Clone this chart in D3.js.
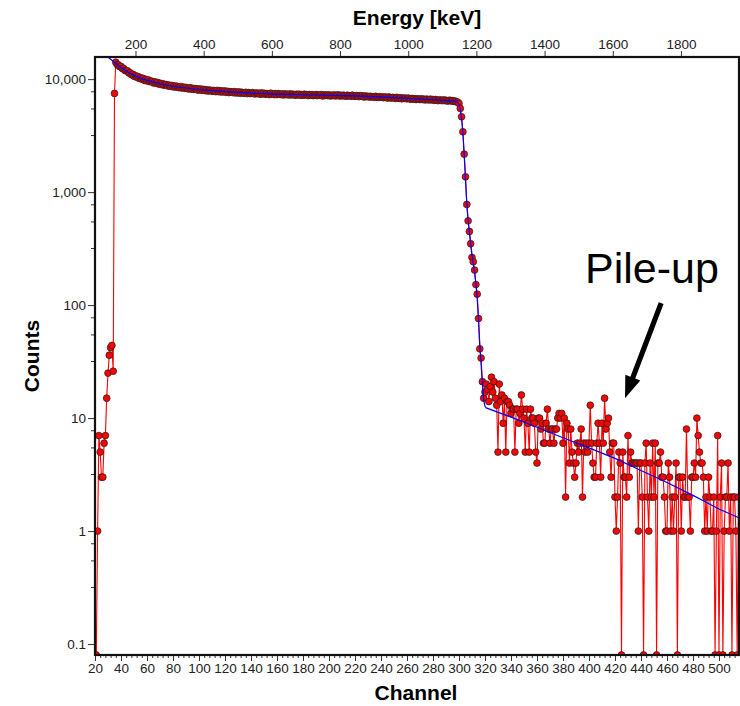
<!DOCTYPE html>
<html>
<head>
<meta charset="utf-8">
<script src="https://cdn.jsdelivr.net/npm/d3@7"></script>
<style>
  body { margin: 0; background: #fff; }
  svg { display: block; }
  text { font-family: "Liberation Sans", Arial, Helvetica, sans-serif; }
</style>
</head>
<body>
<svg id="chart" width="740" height="706"></svg>
<script>
// ---- Spectrum: counts per channel ----
const firstChannel = 21;
// channels 21-35: low-energy threshold rise
const riseCounts = [0, 1, 7, 5, 3, 3, 6, 7, 15, 25, 36, 42, 44, 26, 7470];
// channels 36-299: flat continuum
const plateauCounts = [
  14100, 13450, 13380, 12900,
  12950, 12400, 12450, 11950, 11850, 11850, 11350, 11400, 10950, 11050,
  10600, 10750, 10400, 10550, 10150, 10300, 10000, 10150, 9750, 9950,
  9650, 9850, 9500, 9600, 9550, 9250, 9450, 9200, 9350, 9050,
  9200, 8950, 9100, 8850, 8950, 8950, 8700, 8850, 8650, 8800,
  8550, 8700, 8500, 8650, 8450, 8400, 8600, 8350, 8500, 8300,
  8450, 8250, 8200, 8400, 8150, 8300, 8100, 8250, 8200, 8000,
  8200, 8000, 8150, 7950, 8100, 7900, 8050, 7850, 8000, 7950,
  7800, 7950, 7850, 7750, 7950, 7750, 7900, 7700, 7850, 7700,
  7850, 7650, 7800, 7600, 7750, 7700, 7600, 7750, 7550, 7700,
  7550, 7700, 7500, 7650, 7550, 7500, 7650, 7450, 7600, 7500,
  7450, 7600, 7500, 7400, 7550, 7450, 7500, 7350, 7550, 7400,
  7500, 7350, 7450, 7400, 7300, 7500, 7350, 7450, 7300, 7450,
  7300, 7450, 7350, 7300, 7400, 7250, 7400, 7300, 7350, 7250,
  7400, 7250, 7350, 7300, 7200, 7350, 7250, 7350, 7200, 7300,
  7200, 7350, 7250, 7300, 7150, 7300, 7200, 7300, 7150, 7250,
  7300, 7150, 7250, 7200, 7300, 7100, 7250, 7150, 7250, 7150,
  7250, 7100, 7200, 7150, 7250, 7100, 7200, 7250, 7100, 7200,
  7100, 7200, 7150, 7050, 7200, 7100, 7150, 7050, 7200, 7100,
  7050, 7150, 7100, 7000, 7150, 7050, 7100, 6950, 7100, 7000,
  7050, 6950, 7050, 6950, 7000, 6900, 7050, 6950, 6900, 7000,
  6900, 6950, 6850, 6950, 6900, 6800, 6950, 6850, 6800, 6900,
  6850, 6750, 6900, 6800, 6750, 6850, 6700, 6800, 6750, 6800,
  6700, 6800, 6700, 6650, 6750, 6650, 6700, 6600, 6700, 6650,
  6600, 6700, 6600, 6650, 6550, 6650, 6600, 6550, 6650, 6550,
  6600, 6500, 6600, 6500, 6450, 6550, 6500, 6450, 6550, 6450,
  6500, 6400, 6450, 6500, 6400, 6450, 6350, 6400, 6300, 6250
];
// channels 300-319: Compton edge fall-off
const edgeCounts = [6100, 5500, 4640, 3420, 2170, 1365, 778, 557, 449, 349,
                    264, 242, 204, 152, 125, 76, 41, 34, 21, 15];
// channels 320-515: pile-up tail
const tailCounts = [
  17, 20, 18, 14, 19, 23, 17, 21, 15, 13,
  5, 20, 14, 16, 9, 15, 5, 14, 14, 13,
  11, 12, 12, 5, 12, 12, 9, 11, 16, 12,
  10, 5, 12, 9, 5, 12, 10, 10, 9, 5,
  4, 10, 10, 8, 9, 6, 6, 9, 12, 8,
  6, 8, 8, 6, 8, 8, 10, 11, 10, 11,
  6, 10, 2, 9, 8, 4, 8, 5, 4, 3,
  4, 6, 5, 6, 8, 2, 6, 5, 6, 5,
  6, 13, 6, 4, 3, 3, 6, 9, 6, 3,
  9, 6, 15, 8, 9, 10, 5, 3, 6, 6,
  2, 1, 2, 5, 4, 0, 5, 3, 3, 2,
  7, 3, 5, 4, 4, 4, 4, 4, 1, 4,
  4, 2, 0, 4, 6, 2, 1, 4, 2, 6,
  2, 6, 0, 4, 4, 5, 3, 3, 2, 1,
  1, 4, 3, 1, 2, 1, 2, 4, 0, 3,
  3, 1, 3, 2, 2, 8, 2, 2, 1, 3,
  3, 4, 3, 10, 7, 5, 4, 4, 3, 1,
  2, 1, 3, 2, 1, 1, 2, 0, 1, 7,
  0, 2, 4, 0, 1, 2, 2, 4, 1, 2,
  0, 2, 2, 1, 0, 2
];

// ---- Model curve (fit) ----
const fitChannels = [28, 30, 33, 36, 40, 45, 50, 55, 60, 70, 80, 90, 100, 120, 140, 160,
  190, 220, 250, 280, 296, 298, 299, 300, 301, 302, 303, 304, 305, 306, 307, 308, 309,
  310, 311, 312, 313, 314, 315, 316, 317, 318, 319, 320, 321, 340, 360, 380, 400, 420,
  440, 460, 480, 500, 516];
const fitCounts = [17500, 15700, 14700, 13800, 12700, 11600, 10800, 10200, 9750, 9100,
  8650, 8350, 8100, 7750, 7520, 7380, 7240, 7100, 6850, 6570, 6400, 6330, 6250, 6000,
  5400, 4500, 3300, 2150, 1300, 800, 570, 440, 350, 280, 230, 195, 155, 115, 75, 45,
  30, 20, 14.5, 12.7, 12.3, 10.2, 8.3, 6.7, 5.45, 4.4, 3.44, 2.69, 2.07, 1.57, 1.3];

// ---- Axis ticks ----
const channelTicks = [20, 40, 60, 80, 100, 120, 140, 160, 180, 200, 220, 240, 260, 280,
  300, 320, 340, 360, 380, 400, 420, 440, 460, 480, 500];
const energyTicks = [200, 400, 600, 800, 1000, 1200, 1400, 1600, 1800];
const countTicks = [0.1, 1, 10, 100, 1000, 10000];
const countTickLabels = ["0.1", "1", "10", "100", "1,000", "10,000"];
const minorFactors = [3.2, 5.5, 7.8];

// ---- Annotation (data units) ----
const pileLabel = { text: "Pile-up", channel: 397, count: 157 };
const pileArrow = { fromChannel: 455.5, fromCount: 104, toChannel: 427.7, toCount: 15 };

// ---- Build table ----
const allCounts = riseCounts.concat(plateauCounts, edgeCounts, tailCounts);
const spectrum = allCounts.map((c, i) => ({ ch: firstChannel + i, c }));
const fit = fitChannels.map((ch, i) => ({ ch, c: fitCounts[i] }));

// ---- Layout ----
const P = { left: 95, right: 739, top: 57, bottom: 655 };
const x = d3.scaleLinear().domain([20, 515.4]).range([P.left, P.right]);
const xE = d3.scaleLinear().domain([81.2, 1970.3]).range([P.left, P.right]);
const y = d3.scaleLog().domain([0.08, 15700]).range([P.bottom, P.top]);
const yOf = c => c > 0 ? y(c) : y(y.domain()[0]);

const svg = d3.select("#chart");

svg.append("defs").append("clipPath").attr("id", "plotClip")
  .append("rect")
  .attr("x", P.left).attr("y", P.top)
  .attr("width", P.right - P.left).attr("height", P.bottom - P.top);

const plotG = svg.append("g").attr("clip-path", "url(#plotClip)");

// measured spectrum: connecting line
plotG.append("path")
  .datum(spectrum)
  .attr("fill", "none")
  .attr("stroke", "#ff0000")
  .attr("stroke-width", 1.1)
  .attr("d", d3.line().x(d => x(d.ch)).y(d => yOf(d.c)));

// measured spectrum: markers
plotG.append("g").selectAll("circle")
  .data(spectrum)
  .join("circle")
  .attr("cx", d => x(d.ch))
  .attr("cy", d => yOf(d.c))
  .attr("r", 3.4)
  .attr("fill", "#ff0000")
  .attr("stroke", "#222")
  .attr("stroke-width", 0.75);

// fitted model
plotG.append("path")
  .datum(fit)
  .attr("fill", "none")
  .attr("stroke", "#0000ff")
  .attr("stroke-width", 1.2)
  .attr("d", d3.line().x(d => x(d.ch)).y(d => y(d.c)));

// ---- Axes ----
const tickColor = "#333";
const labelColor = "#222";
const tickFont = '"Liberation Sans", Arial, sans-serif';

// bottom: channel
const minorChannel = d3.range(20, 516, 4).filter(v => v % 20 !== 0);
svg.append("g").attr("transform", `translate(0,${P.bottom})`)
  .call(d3.axisBottom(x).tickValues(minorChannel).tickSize(3).tickFormat(""))
  .call(g => g.select(".domain").remove())
  .call(g => g.selectAll("line").attr("stroke", tickColor));
svg.append("g").attr("transform", `translate(0,${P.bottom})`)
  .call(d3.axisBottom(x).tickValues(channelTicks).tickSize(6).tickPadding(2)
    .tickFormat(d3.format("d")))
  .call(g => g.select(".domain").remove())
  .call(g => g.selectAll("line").attr("stroke", tickColor))
  .call(g => g.selectAll("text").attr("fill", labelColor)
    .style("font-size", "13.5px").style("font-family", tickFont));

// top: energy
svg.append("g").attr("transform", `translate(0,${P.top})`)
  .call(d3.axisTop(xE).tickValues(energyTicks).tickSize(6).tickPadding(2)
    .tickFormat(d3.format("d")))
  .call(g => g.select(".domain").remove())
  .call(g => g.selectAll("line").attr("stroke", tickColor))
  .call(g => g.selectAll("text").attr("fill", labelColor)
    .style("font-size", "13.5px").style("font-family", tickFont));

// left: counts
const minorCounts = [];
[0.01, 0.1, 1, 10, 100, 1000].forEach(dec => minorFactors.forEach(f => {
  const v = dec * f;
  if (v >= y.domain()[0] && v <= y.domain()[1]) minorCounts.push(v);
}));
svg.append("g").attr("transform", `translate(${P.left},0)`)
  .call(d3.axisLeft(y).tickValues(minorCounts).tickSize(4).tickFormat(""))
  .call(g => g.select(".domain").remove())
  .call(g => g.selectAll("line").attr("stroke", tickColor));
svg.append("g").attr("transform", `translate(${P.left},0)`)
  .call(d3.axisLeft(y).tickValues(countTicks).tickSize(7).tickPadding(2)
    .tickFormat((d, i) => countTickLabels[i]))
  .call(g => g.select(".domain").remove())
  .call(g => g.selectAll("line").attr("stroke", tickColor))
  .call(g => g.selectAll("text").attr("fill", labelColor)
    .style("font-size", "13.5px").style("font-family", tickFont));

// frame
svg.append("rect")
  .attr("x", P.left).attr("y", P.top)
  .attr("width", P.right - P.left).attr("height", P.bottom - P.top)
  .attr("fill", "none").attr("stroke", "#111").attr("stroke-width", 2.2);

// axis titles
svg.append("text").attr("x", 417).attr("y", 25).attr("text-anchor", "middle")
  .style("font-size", "21px").style("font-weight", "bold").text("Energy [keV]");
svg.append("text").attr("x", 416).attr("y", 700).attr("text-anchor", "middle")
  .style("font-size", "21px").style("font-weight", "bold").text("Channel");
svg.append("text").attr("transform", "translate(39,356) rotate(-90)").attr("text-anchor", "middle")
  .style("font-size", "21px").style("font-weight", "bold").text("Counts");

// ---- Pile-up annotation ----
svg.append("text")
  .attr("x", x(pileLabel.channel)).attr("y", y(pileLabel.count))
  .style("font-size", "43px").attr("fill", "#000").text(pileLabel.text);

(function drawArrow() {
  const x0 = x(pileArrow.fromChannel), y0 = y(pileArrow.fromCount);
  const x1 = x(pileArrow.toChannel), y1 = y(pileArrow.toCount);
  const len = Math.hypot(x1 - x0, y1 - y0);
  const ux = (x1 - x0) / len, uy = (y1 - y0) / len;
  const nx = -uy, ny = ux;
  const headLen = 22, headHalf = 8, shaftHalf = 2.6;
  const bx = x1 - ux * headLen, by = y1 - uy * headLen;
  const pts = [
    [x0 + nx * shaftHalf, y0 + ny * shaftHalf],
    [bx + nx * shaftHalf, by + ny * shaftHalf],
    [bx + nx * headHalf, by + ny * headHalf],
    [x1, y1],
    [bx - nx * headHalf, by - ny * headHalf],
    [bx - nx * shaftHalf, by - ny * shaftHalf],
    [x0 - nx * shaftHalf, y0 - ny * shaftHalf]
  ];
  svg.append("path").attr("d", "M" + pts.map(p => p.join(",")).join("L") + "Z")
    .attr("fill", "#000");
})();
</script>
</body>
</html>
